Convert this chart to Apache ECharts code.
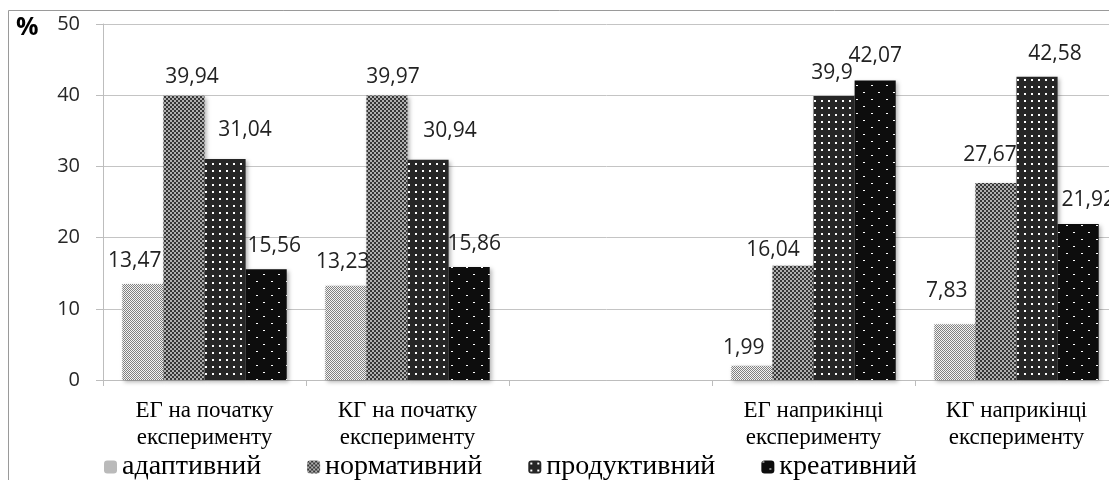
<!DOCTYPE html>
<html>
<head>
<meta charset="utf-8">
<script src="https://cdn.jsdelivr.net/npm/echarts@6/dist/echarts.min.js"></script>
<style>
  html, body { margin: 0; padding: 0; background: #fff; }
  #chart { width: 1109px; height: 480px; }
</style>
</head>
<body>
<div id="chart"></div>
<script>
var categories = ['ЕГ на початку\nексперименту', 'КГ на початку\nексперименту', '', 'ЕГ наприкінці\nексперименту', 'КГ наприкінці\nексперименту'];
var seriesNames = ['адаптивний', 'нормативний', 'продуктивний', 'креативний'];
var adaptive = [13.47, 13.23, null, 1.99, 7.83];
var normative = [39.94, 39.97, null, 16.04, 27.67];
var productive = [31.04, 30.94, null, 39.9, 42.58];
var creative = [15.56, 15.86, null, 42.07, 21.92];
var yTicks = [0, 10, 20, 30, 40, 50];

// label nudges [dx, dy], mimicking where the original placed its labels
var labelNudge = [
    [[-8, 0], [-3, 0], null, [-8, 6], [-8, -10]],
    [[8, 5], [6, 5], null, [-20, 8], [-6, -4]],
    [[20, -5], [22, -5], null, [-2, 1], [18, 1]],
    [[8, 0], [5, 0], null, [0, -1], [10, 0]]
];

function tile(w, h, draw) {
    var c = document.createElement('canvas');
    c.width = w; c.height = h;
    var g = c.getContext('2d');
    draw(g);
    return { image: c, repeat: 'repeat' };
}

var fills = [
    // light checker
    tile(2, 2, function (g) {
        g.fillStyle = '#f4f4f4'; g.fillRect(0, 0, 2, 2);
        g.fillStyle = '#808080'; g.fillRect(0, 0, 1, 1); g.fillRect(1, 1, 1, 1);
    }),
    // dark checker
    tile(4, 4, function (g) {
        g.fillStyle = '#b0b0b0'; g.fillRect(0, 0, 4, 4);
        g.fillStyle = '#363636'; g.fillRect(0, 0, 2, 2); g.fillRect(2, 2, 2, 2);
    }),
    // dark with white dot grid
    tile(7, 7, function (g) {
        g.fillStyle = '#262626'; g.fillRect(0, 0, 7, 7);
        g.fillStyle = '#ffffff'; g.fillRect(2, 2, 2, 2);
    }),
    // black with sparse staggered dots
    tile(15, 14, function (g) {
        g.fillStyle = '#0d0d0d'; g.fillRect(0, 0, 15, 14);
        g.fillStyle = '#ffffff'; g.fillRect(1, 1, 2, 1); g.fillRect(8, 8, 2, 1);
    })
];

var values = [adaptive, normative, productive, creative];

function fmt(v) { return String(v).replace('.', ','); }

var series = seriesNames.map(function (name, i) {
    return {
        name: name,
        type: 'bar',
        barGap: '0%',
        barCategoryGap: '19%',
        itemStyle: {
            color: fills[i],
            shadowBlur: 4,
            shadowOffsetX: 2,
            shadowOffsetY: 2,
            shadowColor: 'rgba(0,0,0,0.3)'
        },
        label: {
            show: true,
            position: 'top',
            distance: 13,
            fontFamily: 'Open Sans',
            fontSize: 21,
            color: '#222',
            formatter: function (p) { return fmt(p.value); }
        },
        data: values[i].map(function (v, j) {
            var n = labelNudge[i][j];
            if (v == null) return null;
            return n ? { value: v, label: { offset: n } } : v;
        })
    };
});

var chart = echarts.init(document.getElementById('chart'));
chart.setOption({
    animation: false,
    grid: { left: 103, width: 1015, top: 24, height: 356, containLabel: false, outerBoundsMode: 'none' },
    legend: {
        data: seriesNames,
        left: 99,
        top: 448,
        itemWidth: 13,
        itemHeight: 13,
        itemGap: 46,
        textStyle: { fontFamily: 'Liberation Serif', fontSize: 28, color: '#000' }
    },
    xAxis: {
        type: 'category',
        data: categories,
        axisLine: { lineStyle: { color: '#bdbdbd' } },
        axisTick: { show: true, length: 6, lineStyle: { color: '#bdbdbd' } },
        axisLabel: {
            interval: 0,
            margin: 17,
            fontFamily: 'Liberation Serif',
            fontSize: 23,
            lineHeight: 27,
            color: '#000'
        }
    },
    yAxis: {
        type: 'value',
        min: yTicks[0],
        max: yTicks[yTicks.length - 1],
        interval: 10,
        axisLine: { show: true, lineStyle: { color: '#bdbdbd' } },
        axisTick: { show: true, length: 7, lineStyle: { color: '#bdbdbd' } },
        splitLine: { lineStyle: { color: '#c4c4c4' } },
        axisLabel: { margin: 23, fontFamily: 'Open Sans', fontSize: 20, color: '#262626' }
    },
    graphic: [
        {
            type: 'rect',
            shape: { x: 8.5, y: 10.5, width: 1200, height: 600 },
            style: { fill: 'none', stroke: '#9a9a9a', lineWidth: 1 },
            silent: true
        },
        {
            type: 'text',
            left: 16,
            top: 15,
            style: { text: '%', fontFamily: 'Open Sans', fontWeight: 'bold', fontSize: 25, fill: '#000' }
        }
    ],
    series: series
});
</script>
</body>
</html>
